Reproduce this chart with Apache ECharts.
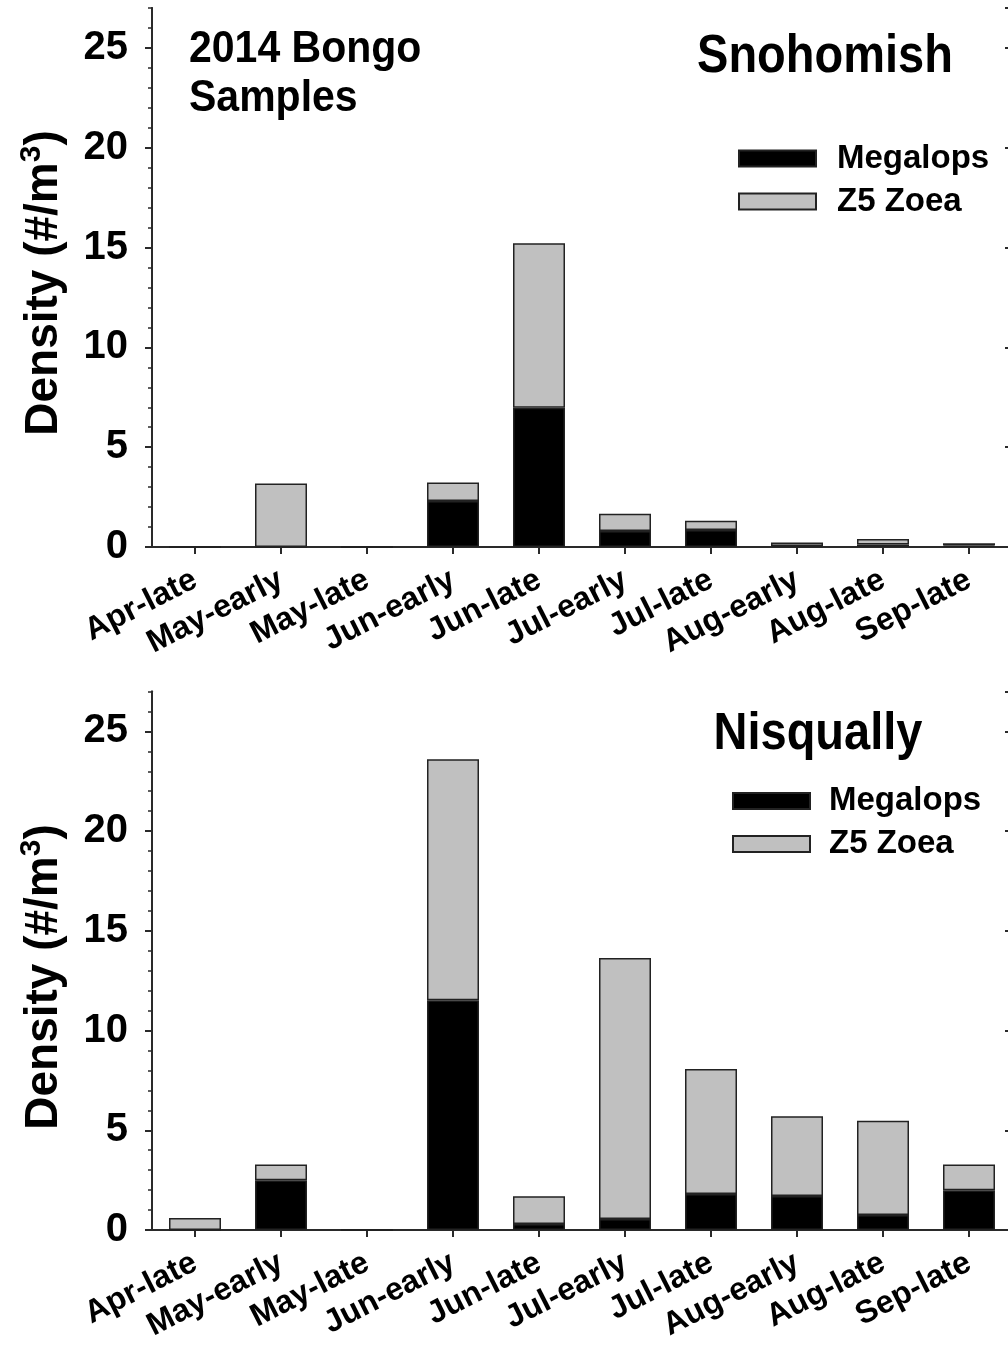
<!DOCTYPE html>
<html>
<head>
<meta charset="utf-8">
<script src="https://cdn.jsdelivr.net/npm/echarts@6/dist/echarts.min.js"></script>
<style>
  html, body { margin: 0; padding: 0; background: #fff; }
  #chart { width: 1008px; height: 1349px; }
</style>
</head>
<body>
<div id="chart"></div>
<script>
// ---- Data ----
var categories = ['Apr-late', 'May-early', 'May-late', 'Jun-early', 'Jun-late', 'Jul-early', 'Jul-late', 'Aug-early', 'Aug-late', 'Sep-late'];
var snohomishMegalops = [0, 0, 0, 2.31, 6.98, 0.80, 0.85, 0.05, 0.13, 0.07];
var snohomishZ5Zoea   = [0, 3.18, 0, 0.92, 8.24, 0.87, 0.47, 0.17, 0.27, 0.12];
var nisquallyMegalops = [0, 2.49, 0, 11.52, 0.30, 0.55, 1.80, 1.70, 0.75, 1.99];
var nisquallyZ5Zoea   = [0.60, 0.80, 0, 12.08, 1.39, 13.09, 6.27, 4.00, 4.73, 1.30];
var yMin = 0, yMax = 27, yMajor = 5, yMinor = 1;

var FONT = '"Liberation Sans", Arial, Helvetica, sans-serif';
var AXIS_COLOR = '#2a2a2a';

var chart = echarts.init(document.getElementById('chart'), null, { renderer: 'canvas' });

var grids = [
  { left: 152, right: -4, top: 8, height: 539, containLabel: false, outerBoundsMode: 'none' },
  { left: 152, right: -4, top: 691.5, height: 538.5, containLabel: false, outerBoundsMode: 'none' }
];

function xAxesFor(gi) {
  return [
    {
      type: 'category', gridIndex: gi, position: 'bottom', data: categories,
      axisLine: { show: true, lineStyle: { color: AXIS_COLOR, width: 2 } },
      axisTick: { show: true, alignWithLabel: true, length: 7, lineStyle: { color: AXIS_COLOR, width: 2 } },
      axisLabel: { show: true, rotate: 27, margin: 31, interval: 0, color: '#000', fontFamily: FONT, fontWeight: 'bold', fontSize: 32, hideOverlap: false },
      splitLine: { show: false }
    },
    {
      type: 'category', gridIndex: gi, position: 'top', data: categories,
      axisLine: { show: true, lineStyle: { color: AXIS_COLOR, width: 2 } },
      axisTick: { show: false }, axisLabel: { show: false }, splitLine: { show: false }
    }
  ];
}

function yAxesFor(gi) {
  var base = { type: 'value', gridIndex: gi, min: yMin, max: yMax, splitLine: { show: false } };
  return [
    Object.assign({}, base, {
      position: 'left', interval: yMinor,
      axisLine: { show: true, lineStyle: { color: AXIS_COLOR, width: 2 } },
      axisTick: { show: true, length: 4, lineStyle: { color: AXIS_COLOR, width: 1.5 } },
      axisLabel: { show: false }
    }),
    Object.assign({}, base, {
      position: 'left', interval: yMajor,
      axisLine: { show: true, lineStyle: { color: AXIS_COLOR, width: 2 } },
      axisTick: { show: true, length: 7, lineStyle: { color: AXIS_COLOR, width: 2 } },
      axisLabel: {
        show: true, margin: 24, color: '#000', fontFamily: FONT, fontWeight: 'bold', fontSize: 40,
        showMaxLabel: false,
        formatter: function (v) { return (v % yMajor === 0) ? String(v) : ''; }
      }
    }),
    Object.assign({}, base, {
      position: 'right', interval: yMinor,
      axisLine: { show: true, lineStyle: { color: AXIS_COLOR, width: 2 } },
      axisTick: { show: true, inside: true, length: 4, lineStyle: { color: AXIS_COLOR, width: 1.5 } },
      axisLabel: { show: false }
    }),
    Object.assign({}, base, {
      position: 'right', interval: yMajor,
      axisLine: { show: true, lineStyle: { color: AXIS_COLOR, width: 2 } },
      axisTick: { show: true, inside: true, length: 7, lineStyle: { color: AXIS_COLOR, width: 2 } },
      axisLabel: { show: false }
    })
  ];
}

function barSeries(name, data, xi, yi, stack, color) {
  return {
    name: name, type: 'bar', stack: stack, data: data,
    xAxisIndex: xi, yAxisIndex: yi, barWidth: 52,
    itemStyle: { color: color, borderColor: '#222', borderWidth: 1.5 },
    emphasis: { disabled: true },
    animation: false
  };
}

function legendFor(left, top, gap) {
  return {
    orient: 'vertical', left: left, top: top, padding: 0, itemGap: 0,
    itemWidth: 77, itemHeight: 16, icon: 'rect',
    selectedMode: false,
    data: ['Megalops', 'Z5 Zoea'],
    textStyle: { color: '#000', fontFamily: FONT, fontWeight: 'bold', fontSize: 33, lineHeight: 43, padding: [0, 0, 0, gap] }
  };
}

function yTitle(x, y) {
  return {
    type: 'text', x: x, y: y, rotation: Math.PI / 2,
    style: {
      text: '{a|Density (#/m}{s|3}{a|)}',
      x: 0, y: 0, align: 'center', verticalAlign: 'middle',
      rich: {
        a: { fontFamily: FONT, fontWeight: 'bold', fontSize: 46, fill: '#000', lineHeight: 50, verticalAlign: 'bottom' },
        s: { fontFamily: FONT, fontWeight: 'bold', fontSize: 30, fill: '#000', lineHeight: 50, verticalAlign: 'top', padding: [0, 0, 0, 0] }
      }
    }
  };
}

function label(text, x, y, size, align, scaleY) {
  return {
    type: 'text', x: x, y: y, scaleY: scaleY || 1,
    style: { text: text, x: 0, y: 0, align: align || 'left', verticalAlign: 'middle',
             fontFamily: FONT, fontWeight: 'bold', fontSize: size, fill: '#000' }
  };
}

var option = {
  backgroundColor: '#fff',
  animation: false,
  grid: grids,
  xAxis: xAxesFor(0).concat(xAxesFor(1)),
  yAxis: yAxesFor(0).concat(yAxesFor(1)),
  legend: [legendFor(738, 137, 16), legendFor(732, 779.5, 14)],
  series: [
    barSeries('Megalops', snohomishMegalops, 0, 0, 'sno', '#000000'),
    barSeries('Z5 Zoea', snohomishZ5Zoea, 0, 0, 'sno', '#c0c0c0'),
    barSeries('Megalops', nisquallyMegalops, 2, 4, 'nis', '#000000'),
    barSeries('Z5 Zoea', nisquallyZ5Zoea, 2, 4, 'nis', '#c0c0c0')
  ],
  graphic: [
    yTitle(42, 283),
    yTitle(42, 977),
    label('2014 Bongo', 189, 50, 41, 'left', 1.1),
    label('Samples', 189, 99, 41, 'left', 1.1),
    label('Snohomish', 825, 57, 47, 'center', 1.15),
    label('Nisqually', 818, 735, 47, 'center', 1.1)
  ]
};

chart.setOption(option);
</script>
</body>
</html>
